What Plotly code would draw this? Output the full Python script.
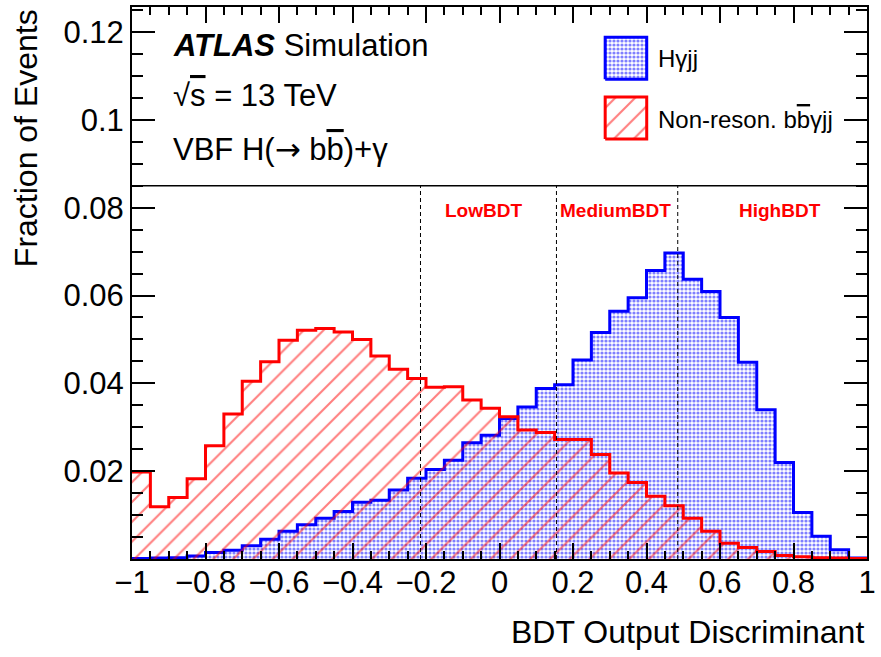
import numpy as np
import plotly.graph_objects as go

# ---------------- data ----------------
BIN_LO, BIN_HI = -1.0, 1.0
# H gamma jj (signal), fraction of events per bin (40 bins, width 0.05)
h_yjj = [0.0001, 0.0002, 0.0003, 0.0007, 0.0015, 0.0020, 0.0030, 0.0045, 0.0063, 0.0078,
         0.0093, 0.0108, 0.0129, 0.0134, 0.0157, 0.0184, 0.0204, 0.0225, 0.0265, 0.0282,
         0.0320, 0.0346, 0.0388, 0.0397, 0.0453, 0.0516, 0.0564, 0.0595, 0.0657, 0.0697,
         0.0637, 0.0609, 0.0550, 0.0448, 0.0340, 0.0220, 0.0106, 0.0052, 0.0021, 0.0002]
# Non-resonant bb gamma jj (background)
bb_yjj = [0.0198, 0.0119, 0.0140, 0.0183, 0.0258, 0.0330, 0.0405, 0.0449, 0.0498, 0.0521,
          0.0525, 0.0517, 0.0500, 0.0462, 0.0432, 0.0411, 0.0391, 0.0392, 0.0362, 0.0343,
          0.0324, 0.0294, 0.0288, 0.0272, 0.0272, 0.0238, 0.0196, 0.0174, 0.0143, 0.0121,
          0.0093, 0.0063, 0.0036, 0.0026, 0.0017, 0.0008, 0.0005, 0.0003, 0.0002, 0.0001]
bdt_cuts = [-0.215, 0.155, 0.485]
category_names = ["LowBDT", "MediumBDT", "HighBDT"]
header_level = 0.085
y_ticks = [0.02, 0.04, 0.06, 0.08, 0.10, 0.12]
y_ticktext = ["0.02", "0.04", "0.06", "0.08", "0.1", "0.12"]

edges = np.linspace(BIN_LO, BIN_HI, len(h_yjj) + 1)

FONT = "Liberation Sans, Arial, Helvetica, sans-serif"
BLUE = "#0000ff"
RED = "#ff0000"
DOTS = dict(shape=".", fgcolor=BLUE, bgcolor="rgba(255,255,255,0)", size=4, solidity=0.5)
HATCH = dict(shape="/", fgcolor=RED, bgcolor="rgba(255,255,255,0)", size=14, solidity=0.15)

fig = go.Figure()

# signal: dotted blue fill
fig.add_trace(go.Scatter(
    x=edges, y=h_yjj + [h_yjj[-1]], mode="lines",
    line=dict(shape="hv", color=BLUE, width=3),
    fill="tozeroy", fillcolor="rgba(0,0,0,0)", fillpattern=DOTS,
    showlegend=False, hoverinfo="skip"))
# background: red hatch
fig.add_trace(go.Scatter(
    x=edges, y=bb_yjj + [bb_yjj[-1]], mode="lines",
    line=dict(shape="hv", color=RED, width=3),
    fill="tozeroy", fillcolor="rgba(0,0,0,0)", fillpattern=HATCH,
    showlegend=False, hoverinfo="skip"))

# legend boxes on an overlay paper-like axis
def box(x0, x1, y0, y1):
    return [x0, x1, x1, x0, x0], [y0, y0, y1, y1, y0]

bx, by = box(0.6438, 0.7003, 0.869, 0.9453)
fig.add_trace(go.Scatter(x=bx, y=by, xaxis="x2", yaxis="y2", mode="lines",
                         line=dict(color=BLUE, width=3), fill="toself", fillcolor="rgba(0,0,0,0)",
                         fillpattern=DOTS, showlegend=False, hoverinfo="skip"))
rx, ry = box(0.6438, 0.7003, 0.7608, 0.8371)
fig.add_trace(go.Scatter(x=rx, y=ry, xaxis="x2", yaxis="y2", mode="lines",
                         line=dict(color=RED, width=3), fill="toself", fillcolor="rgba(0,0,0,0)",
                         fillpattern=HATCH, showlegend=False, hoverinfo="skip"))

shapes = []
for c in bdt_cuts:
    shapes.append(dict(type="line", xref="x", yref="y", x0=c, x1=c, y0=0, y1=header_level,
                       line=dict(color="black", width=1, dash="4px,3px"), layer="above"))
shapes.append(dict(type="line", xref="paper", yref="y", x0=0, x1=1, y0=header_level, y1=header_level,
                   line=dict(color="black", width=1.5), layer="above"))

ann = []
def txt(text, x, y, size, xanchor="left", yanchor="middle", color="black", angle=0):
    ann.append(dict(text=text, x=x, y=y, xref="paper", yref="paper", showarrow=False,
                    xanchor=xanchor, yanchor=yanchor, textangle=angle,
                    font=dict(family=FONT, size=size, color=color)))

OV = "<span style='text-decoration:overline'>%s</span>"
txt("<b><i>ATLAS</i></b> Simulation", 0.053, 0.931, 31)
txt("√" + OV % "s" + " = 13 TeV", 0.053, 0.839, 31)
txt("VBF H(<span style='font-family:DejaVu Sans'>→</span> b" + OV % "b" + ")+γ", 0.053, 0.743, 31)
txt("Hγjj", 0.7129, 0.9075, 24)
txt("Non-reson. b" + OV % "b" + "γjj", 0.7129, 0.7965, 24)
for name, px in zip(category_names, [486, 619, 784]):
    txt("<b>" + name + "</b>", (px - 132.5) / 739, 0.6314, 19, xanchor="center", color=RED)
txt("BDT Output Discriminant", 0.998, -0.132, 32, xanchor="right")
txt("Fraction of Events", -0.144, 1.0, 32, xanchor="center", yanchor="top", angle=-90)

axis_common = dict(showgrid=False, zeroline=False, showline=True, linecolor="black", linewidth=2,
                   mirror="ticks", ticks="inside", tickcolor="black", tickwidth=2,
                   tickfont=dict(family=FONT, size=31, color="black"))

fig.update_layout(
    width=881, height=657,
    margin=dict(l=132, r=9, t=5, b=98),
    paper_bgcolor="white", plot_bgcolor="white",
    xaxis=dict(range=[BIN_LO, BIN_HI], tick0=-1, dtick=0.2, ticklen=16, ticklabelstandoff=-5,
               minor=dict(tick0=-1, dtick=0.05, ticklen=8, tickwidth=1.5, ticks="inside", tickcolor="black"),
               **axis_common),
    yaxis=dict(range=[0, 0.1257], tickmode="array", tickvals=y_ticks, ticktext=y_ticktext, ticklen=23,
               minor=dict(tick0=0, dtick=0.005, ticklen=11, tickwidth=1.5, ticks="inside", tickcolor="black"),
               **axis_common),
    xaxis2=dict(range=[0, 1], overlaying="x", visible=False, fixedrange=True),
    yaxis2=dict(range=[0, 1], overlaying="y", visible=False, fixedrange=True),
    shapes=shapes, annotations=ann,
)

fig.write_html("out.html", config={"displayModeBar": False},
               post_script="document.body.style.margin='0';document.body.style.overflow='hidden';"
                           "document.documentElement.style.overflow='hidden';")
